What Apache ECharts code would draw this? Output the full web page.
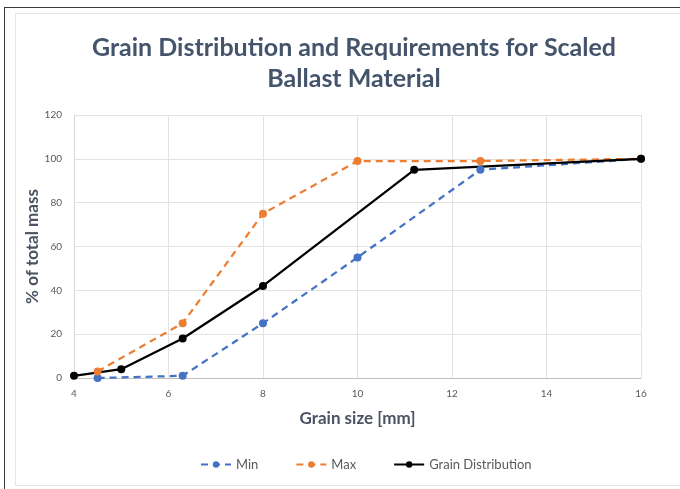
<!DOCTYPE html>
<html>
<head>
<meta charset="utf-8">
<script src="https://cdn.jsdelivr.net/npm/echarts@6/dist/echarts.min.js"></script>
<style>
  html, body { margin: 0; padding: 0; background: #fff; }
  #frame { position: absolute; left: 4px; top: 7px; width: 676px; height: 482px; border: 1px solid #3a3a3a; border-right: none; border-bottom: none; box-sizing: border-box; }
  #panel { position: absolute; left: 15px; top: 13px; width: 665px; height: 473px; border: 1px solid #E6E6E6; border-right: none; box-sizing: border-box; }
  #chart { position: absolute; left: 0; top: 0; width: 680px; height: 489px; }
</style>
</head>
<body>
<div id="frame"></div>
<div id="panel"></div>
<div id="chart"></div>
<script>
// Sieve sizes [mm] and passing percentages
const minSize   = [4.5, 6.3, 8, 10, 12.6, 16];
const minPass   = [0, 1, 25, 55, 95, 100];
const maxSize   = [4.5, 6.3, 8, 10, 12.6, 16];
const maxPass   = [3, 25, 75, 99, 99, 100];
const grainSize = [4, 5, 6.3, 8, 11.2, 16];
const grainPass = [1, 4, 18, 42, 95, 100];

const pairs = (xs, ys) => xs.map((x, i) => [x, ys[i]]);

const FONT = 'Lato, "Open Sans", sans-serif';
const chart = echarts.init(document.getElementById('chart'));

function lineSeries(name, xs, ys, color, dashed) {
  return {
    name: name,
    type: 'line',
    data: pairs(xs, ys),
    symbol: 'circle',
    symbolSize: 8,
    smooth: false,
    itemStyle: { color: color },
    lineStyle: { color: color, width: 2.25, type: dashed ? [7, 5] : 'solid' },
    emphasis: { disabled: true }
  };
}

chart.setOption({
  animation: false,
  textStyle: { fontFamily: FONT },
  title: {
    text: 'Grain Distribution and Requirements for Scaled\nBallast Material',
    left: 349,
    textAlign: 'center',
    top: 27,
    textStyle: { fontFamily: FONT, fontSize: 25, fontWeight: 'bold', color: '#44546A', lineHeight: 31 }
  },
  legend: {
    bottom: 13,
    left: 195,
    itemGap: 37,
    itemWidth: 30,
    itemHeight: 8,
    textStyle: { fontFamily: FONT, fontSize: 13, color: '#595959' },
    data: ['Min', 'Max', 'Grain Distribution']
  },
  grid: { left: 74, right: 39, top: 115, bottom: 111 },
  xAxis: {
    type: 'value',
    min: 4, max: 16, interval: 2,
    name: 'Grain size [mm]',
    nameLocation: 'middle',
    nameGap: 32,
    nameTextStyle: { fontFamily: FONT, fontSize: 17, fontWeight: 'bold', color: '#4A5364' },
    axisLine: { show: true, lineStyle: { color: '#BFBFBF' } },
    axisTick: { show: false },
    axisLabel: { fontSize: 10, color: '#595959', margin: 11 },
    splitLine: { show: true, lineStyle: { color: '#E2E2E2' } }
  },
  yAxis: {
    type: 'value',
    min: 0, max: 120, interval: 20,
    name: '% of total mass',
    nameLocation: 'middle',
    nameGap: 33,
    nameMoveOverlap: false,
    nameTextStyle: { fontFamily: FONT, fontSize: 17, fontWeight: 'bold', color: '#4A5364' },
    axisLine: { show: true, lineStyle: { color: '#D0D5DE' } },
    axisTick: { show: false },
    axisLabel: { fontSize: 10, color: '#595959', margin: 12 },
    splitLine: { show: true, lineStyle: { color: '#E2E2E2' } }
  },
  series: [
    lineSeries('Min', minSize, minPass, '#4472C4', true),
    lineSeries('Max', maxSize, maxPass, '#ED7D31', true),
    lineSeries('Grain Distribution', grainSize, grainPass, '#000000', false)
  ]
});
</script>
</body>
</html>
